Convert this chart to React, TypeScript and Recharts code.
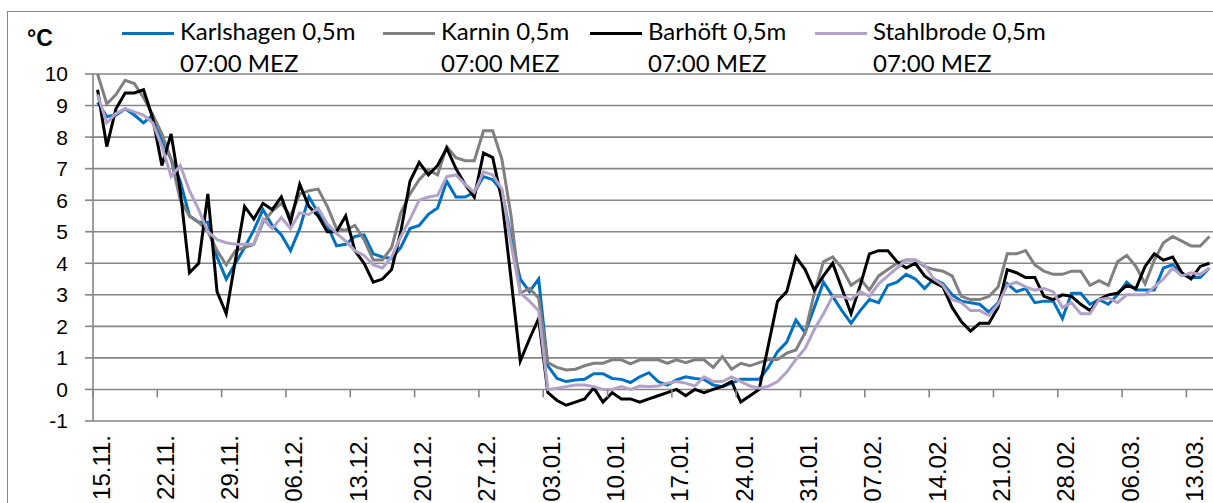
import { CartesianGrid, Legend, Line, LineChart, XAxis, YAxis } from 'recharts'

// Tageswerte ab 15.11. (Schaltjahr), Wassertemperatur in °C
const TICK_LABELS = ['15.11.', '22.11.', '29.11.', '06.12.', '13.12.', '20.12.', '27.12.', '03.01.', '10.01.', '17.01.', '24.01.', '31.01.', '07.02.', '14.02.', '21.02.', '28.02.', '06.03.', '13.03.']

const KARLSHAGEN = [
  9.1, 8.65, 8.7, 8.9, 8.7, 8.45, 8.7, 7.9, 7.3, 6.6,
  5.5, 5.3, 5.3, 4.2, 3.5, 4.0, 4.5, 5.05, 5.7, 5.2,
  4.9, 4.4, 5.1, 6.1, 5.6, 5.2, 4.55, 4.6, 4.85, 4.9,
  4.3, 4.2, 4.15, 4.5, 5.1, 5.2, 5.55, 5.75, 6.6, 6.1,
  6.1, 6.25, 6.75, 6.65, 6.3, 4.8, 3.5, 3.1, 3.5, 0.75,
  0.35, 0.25, 0.3, 0.32, 0.5, 0.5, 0.35, 0.32, 0.22, 0.4,
  0.53, 0.25, 0.14, 0.3, 0.4, 0.35, 0.32, 0.14, 0.09, 0.2,
  0.32, 0.32, 0.32, 0.7, 1.2, 1.5, 2.2, 1.8, 2.6, 3.4,
  2.95, 2.5, 2.1, 2.5, 2.85, 2.75, 3.3, 3.4, 3.65, 3.5,
  3.2, 3.5, 3.35, 3.0, 2.8, 2.75, 2.7, 2.45, 2.75, 3.35,
  3.1, 3.2, 2.75, 2.8, 2.8, 2.25, 3.05, 3.05, 2.7, 2.85,
  2.7, 3.0, 3.4, 3.15, 3.15, 3.15, 3.85, 3.95, 3.65, 3.55,
  3.55, 3.85,
]

const KARNIN = [
  10.0, 9.05, 9.35, 9.8, 9.7, 9.25, 8.7, 8.1, 7.3, 6.0,
  5.5, 5.3, 5.0, 4.4, 3.95, 4.4, 4.5, 4.6, 5.3, 5.65,
  5.9, 5.5, 6.2, 6.3, 6.35, 5.8, 5.1, 5.05, 5.2, 4.75,
  4.1, 4.1, 4.5, 5.6, 6.2, 6.65, 6.95, 6.8, 7.7, 7.35,
  7.25, 7.25, 8.2, 8.2, 7.3, 5.5, 3.05, 3.2, 2.9, 0.85,
  0.7, 0.62, 0.64, 0.75, 0.83, 0.83, 0.94, 0.94, 0.81, 0.94,
  0.94, 0.94, 0.83, 0.94, 0.85, 0.94, 0.94, 0.7, 1.04, 0.64,
  0.83, 0.75, 0.85, 0.95, 0.95, 1.15, 1.25, 1.8, 3.05, 4.05,
  4.2, 3.85, 3.3, 3.5, 3.15, 3.6, 3.8, 4.0, 4.1, 4.1,
  3.9, 3.8, 3.75, 3.6, 2.95, 2.85, 2.85, 2.95, 3.25, 4.3,
  4.3, 4.4, 3.95, 3.75, 3.65, 3.65, 3.75, 3.75, 3.3, 3.45,
  3.3, 4.05, 4.25, 3.9, 3.35, 4.1, 4.65, 4.85, 4.7, 4.55,
  4.55, 4.85,
]

const BARHOEFT = [
  9.5, 7.7, 8.9, 9.4, 9.4, 9.5, 8.6, 7.1, 8.1, 6.3,
  3.7, 4.0, 6.2, 3.1, 2.4, 4.1, 5.8, 5.4, 5.9, 5.7,
  6.1, 5.3, 6.5, 5.8, 5.5, 5.0, 5.0, 5.5, 4.4, 4.0,
  3.4, 3.5, 3.8, 5.0, 6.6, 7.2, 6.8, 7.1, 7.65, 7.0,
  6.5, 6.1, 7.5, 7.35, 6.0, 3.5, 0.9, 1.6, 2.25, -0.1,
  -0.35, -0.5, -0.4, -0.3, 0.05, -0.4, -0.1, -0.3, -0.3, -0.4,
  -0.3, -0.2, -0.1, 0.0, -0.2, 0.0, -0.1, 0.0, 0.1, 0.25,
  -0.4, -0.2, 0.0, 1.4, 2.8, 3.1, 4.2, 3.8, 3.15, 3.6,
  4.0, 3.2, 2.4, 3.3, 4.3, 4.4, 4.4, 4.05, 3.85, 4.0,
  3.6, 3.4, 3.25, 2.6, 2.15, 1.85, 2.1, 2.1, 2.6, 3.8,
  3.7, 3.55, 3.55, 2.95, 2.85, 3.0, 2.95, 2.7, 2.5, 2.85,
  3.0, 3.05, 3.3, 3.2, 3.9, 4.3, 4.1, 4.2, 3.7, 3.5,
  3.9, 4.0,
]

const STAHLBRODE = [
  9.35, 8.45, 8.75, 8.9, 8.8, 8.7, 8.45, 7.7, 6.75, 7.1,
  6.3, 5.7, 5.0, 4.75, 4.65, 4.6, 4.6, 4.6, 5.4, 5.1,
  5.45, 5.1, 5.6, 5.55, 5.75, 5.25, 4.95, 4.7, 4.4, 4.25,
  3.95, 3.85, 4.2, 4.85, 5.4, 6.0, 6.1, 6.15, 6.75, 6.8,
  6.5, 6.25, 6.9, 6.8, 6.35, 4.6, 3.05, 2.8, 2.5, 0.0,
  0.04, 0.09, 0.14, 0.14, 0.09, 0.0, 0.0, 0.09, 0.0, 0.11,
  0.09, 0.11, 0.2, 0.25, 0.2, 0.11, 0.4, 0.25, 0.25, 0.4,
  0.25, 0.11, 0.04, 0.1, 0.25, 0.55, 0.95, 1.3, 1.9, 2.4,
  2.95, 2.95, 2.85, 3.1, 2.95, 3.35, 3.6, 3.85, 4.1, 4.1,
  3.95, 3.5, 3.3, 2.85, 2.75, 2.5, 2.5, 2.35, 2.7, 3.3,
  3.4, 3.25, 3.15, 3.2, 3.1, 2.6, 2.75, 2.4, 2.4, 2.85,
  2.9, 2.75, 3.0, 3.0, 3.0, 3.25, 3.5, 3.85, 3.6, 3.7,
  3.65, 3.85,
]

const SERIES = [
  { key: 'karlshagen', name: 'Karlshagen 0,5m\n07:00 MEZ', color: '#0070C0', values: KARLSHAGEN, legendX: 122 },
  { key: 'karnin', name: 'Karnin 0,5m\n07:00 MEZ', color: '#808080', values: KARNIN, legendX: 383 },
  { key: 'barhoeft', name: 'Barhöft 0,5m\n07:00 MEZ', color: '#000000', values: BARHOEFT, legendX: 590 },
  { key: 'stahlbrode', name: 'Stahlbrode 0,5m\n07:00 MEZ', color: '#B3A2C7', values: STAHLBRODE, legendX: 815 },
]

const data = KARLSHAGEN.map((_, i) => {
  const row: Record<string, number> = { day: i + 0.5 }
  SERIES.forEach((s) => {
    row[s.key] = s.values[i]
  })
  return row
})

const DAYS = 122
const Y_TICKS = [-1, 0, 1, 2, 3, 4, 5, 6, 7, 8, 9, 10]
const WEEK_TICKS = TICK_LABELS.map((_, k) => k * 7)

const AXIS = '#868686'
const AXIS_FONT = '"Liberation Sans", Arial, sans-serif'
const LEFT = 93
const TOP = 74
const PLOT_W = 1121
const PLOT_H = 347
const XAXIS_H = 110
const LEGEND_H = 60

function DateTick(props: any) {
  const { x, y, payload } = props
  const zeroY = y - PLOT_H / 11
  const label = TICK_LABELS[Math.round(payload.value / 7)]
  const lx = x + 8
  const ly = y + 14
  return (
    <g>
      <line x1={x} x2={x} y1={zeroY} y2={zeroY + 8} stroke={AXIS} strokeWidth={1.6} />
      <text
        x={lx}
        y={ly}
        transform={`rotate(-90 ${lx} ${ly})`}
        textAnchor="end"
        dominantBaseline="central"
        fontSize={24}
        fontFamily={AXIS_FONT}
        fill="#000"
      >
        {label}
      </text>
    </g>
  )
}

function LegendBox() {
  return (
    <div style={{ position: 'relative', width: LEFT + PLOT_W, height: LEGEND_H }}>
      {SERIES.map((s) => (
        <div key={s.key}>
          <div
            style={{
              position: 'absolute',
              left: s.legendX,
              top: 18,
              width: 52,
              height: 3,
              background: s.color,
            }}
          />
          <div
            style={{
              position: 'absolute',
              left: s.legendX + 58,
              top: 1,
              whiteSpace: 'pre',
              fontFamily: 'Lato, sans-serif',
              fontSize: 24,
              lineHeight: '32px',
              color: '#000',
            }}
          >
            {s.name}
          </div>
        </div>
      ))}
    </div>
  )
}

export default function App() {
  return (
    <div style={{ position: 'fixed', left: 0, top: 0, width: 1213, height: 503, overflow: 'hidden', background: '#fff' }}>
      <div
        style={{
          position: 'absolute',
          left: 7,
          top: 11,
          width: 1400,
          height: 700,
          border: `1.5px solid ${AXIS}`,
          boxSizing: 'border-box',
        }}
      />
      <div style={{ position: 'absolute', left: 0, top: 0 }}>
        <LineChart
          width={LEFT + PLOT_W}
          height={TOP + PLOT_H + XAXIS_H}
          data={data}
          margin={{ top: TOP - LEGEND_H, right: 0, bottom: 0, left: 0 }}
        >
          <CartesianGrid vertical={false} stroke={AXIS} strokeWidth={1.6} />
          <XAxis
            type="number"
            dataKey="day"
            domain={[0, DAYS]}
            ticks={WEEK_TICKS}
            interval={0}
            allowDataOverflow
            axisLine={false}
            tickLine={false}
            tickSize={0}
            tickMargin={0}
            height={XAXIS_H}
            tick={<DateTick />}
          />
          <YAxis
            type="number"
            domain={[-1, 10]}
            ticks={Y_TICKS}
            interval={0}
            width={LEFT}
            axisLine={{ stroke: AXIS, strokeWidth: 1.6 }}
            tickLine={{ stroke: AXIS, strokeWidth: 1.6 }}
            tickSize={8}
            tickMargin={17}
            tick={{ fontSize: 21, fontFamily: AXIS_FONT, fill: '#000' }}
            label={(p: any) => (
              <text
                x={p.viewBox.x + 27}
                y={p.viewBox.y - 28}
                fontSize={23}
                fontWeight="bold"
                fontFamily={AXIS_FONT}
                fill="#000"
              >
                °C
              </text>
            )}
          />
          <Legend verticalAlign="top" align="left" height={LEGEND_H} content={<LegendBox />} wrapperStyle={{ left: 0, top: TOP - LEGEND_H }} />
          {SERIES.map((s) => (
            <Line
              key={s.key}
              type="linear"
              dataKey={s.key}
              name={s.name}
              stroke={s.color}
              strokeWidth={3}
              dot={false}
              isAnimationActive={false}
            />
          ))}
        </LineChart>
      </div>
    </div>
  )
}
